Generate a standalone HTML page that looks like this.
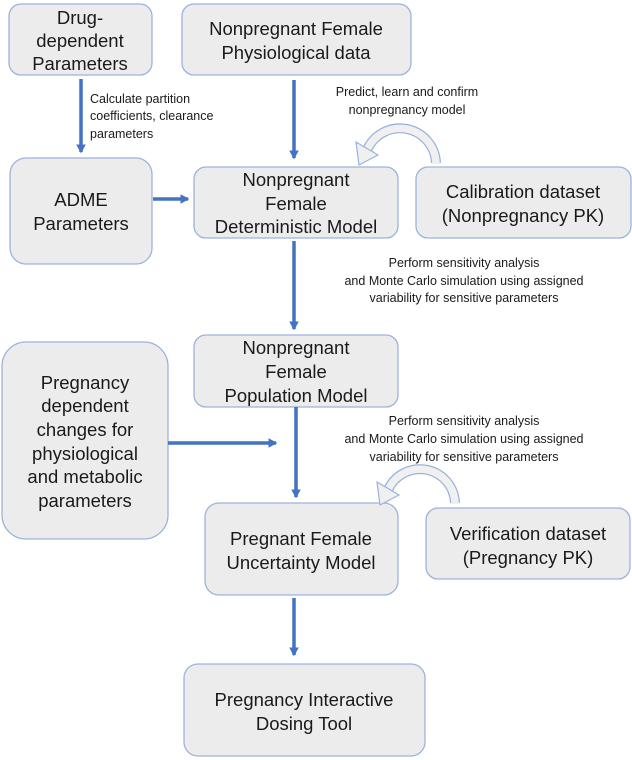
<!DOCTYPE html>
<html><head><meta charset="utf-8"><style>
body{margin:0;background:#fff}
svg{display:block}
text{font-family:"Liberation Sans",Arial,sans-serif;fill:#1a1a1a}
.b{font-size:18.5px}
.s{font-size:12.5px}
</style></head><body>
<svg width="632" height="760" viewBox="0 0 632 760">
<defs><marker id="ah" markerWidth="4" markerHeight="4" refX="2.2" refY="2" orient="auto" markerUnits="strokeWidth"><path d="M0,0.6 L2.6,2 L0,3.4 z" fill="#4472c4"/></marker></defs>
<g fill="#ececec" stroke="#9bb3dc" stroke-width="1.3">
<rect x="9" y="4" width="143" height="71" rx="12"/>
<rect x="182" y="4" width="229" height="71" rx="12"/>
<rect x="10" y="158" width="142" height="106" rx="16"/>
<rect x="194" y="167" width="204" height="71" rx="12"/>
<rect x="416" y="167" width="215" height="71" rx="12"/>
<rect x="194" y="335" width="204" height="72" rx="12"/>
<rect x="2" y="342" width="166" height="197" rx="24"/>
<rect x="205" y="503" width="193" height="92" rx="14"/>
<rect x="426" y="508" width="204" height="71" rx="12"/>
<rect x="184" y="664" width="241" height="92" rx="14"/>
</g>
<g stroke="#4472c4" stroke-width="3.5" fill="none" marker-end="url(#ah)">
<line x1="81" y1="79" x2="81" y2="152"/>
<line x1="294" y1="80" x2="294" y2="158"/>
<line x1="153" y1="199" x2="188" y2="199"/>
<line x1="294" y1="241" x2="294" y2="329"/>
<line x1="168" y1="443" x2="276" y2="443"/>
<line x1="296" y1="407" x2="296" y2="497"/>
<line x1="294" y1="598" x2="294" y2="655"/>
</g>
<g>
<path d="M436,163 A36,36 0 0 0 367,150" fill="none" stroke="#9bb3dc" stroke-width="10"/>
<path d="M436,164 A36,36 0 0 0 367,150" fill="none" stroke="#f0f0f0" stroke-width="7.5"/>
<polygon points="378,155 356,142 359,165" fill="#f0f0f0" stroke="#9bb3dc" stroke-width="1.2"/>
<path d="M455,503 A35,35 0 0 0 388,490" fill="none" stroke="#9bb3dc" stroke-width="10"/>
<path d="M455,504 A35,35 0 0 0 388,490" fill="none" stroke="#f0f0f0" stroke-width="7.5"/>
<polygon points="399,495 377,482 380,505" fill="#f0f0f0" stroke="#9bb3dc" stroke-width="1.2"/>
</g>
<g class="b" text-anchor="middle">
<text x="80" y="24">Drug-</text><text x="80" y="47">dependent</text><text x="80" y="70">Parameters</text>
<text x="296" y="35">Nonpregnant Female</text><text x="296" y="59">Physiological data</text>
<text x="81" y="206">ADME</text><text x="81" y="230">Parameters</text>
<text x="296" y="186">Nonpregnant</text><text x="296" y="210">Female</text><text x="296" y="233">Deterministic Model</text>
<text x="523" y="198">Calibration dataset</text><text x="523" y="222">(Nonpregnancy PK)</text>
<text x="296" y="354">Nonpregnant</text><text x="296" y="378">Female</text><text x="296" y="402">Population Model</text>
<text x="85" y="389">Pregnancy</text><text x="85" y="412">dependent</text><text x="85" y="436">changes for</text><text x="85" y="460">physiological</text><text x="85" y="483">and metabolic</text><text x="85" y="507">parameters</text>
<text x="301" y="545">Pregnant Female</text><text x="301" y="569">Uncertainty Model</text>
<text x="528" y="540">Verification dataset</text><text x="528" y="564">(Pregnancy PK)</text>
<text x="304" y="706">Pregnancy Interactive</text><text x="304" y="730">Dosing Tool</text>
</g>
<g class="s">
<text x="90" y="103">Calculate partition</text><text x="90" y="120">coefficients, clearance</text><text x="90" y="138">parameters</text>
<g text-anchor="middle">
<text x="407" y="96">Predict, learn and confirm</text><text x="407" y="114">nonpregnancy model</text>
<text x="464" y="267">Perform sensitivity analysis</text><text x="464" y="285">and Monte Carlo simulation using assigned</text><text x="464" y="302">variability for sensitive parameters</text>
<text x="464" y="425">Perform sensitivity analysis</text><text x="464" y="443">and Monte Carlo simulation using assigned</text><text x="464" y="461">variability for sensitive parameters</text>
</g></g>
</svg>
</body></html>
